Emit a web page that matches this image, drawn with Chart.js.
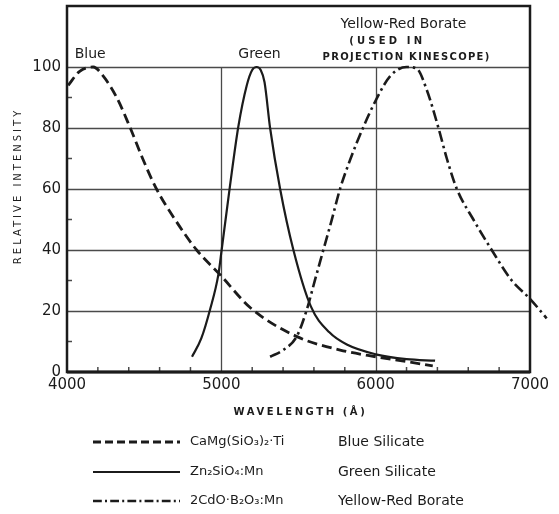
<!DOCTYPE html>
<html>
<head>
<meta charset="utf-8">
<script src="https://cdn.jsdelivr.net/npm/chart.js@4.4.1/dist/chart.umd.min.js"></script>
<style>
	html, body { margin: 0; padding: 0; background: #fff; }
	#wrap { width: 559px; height: 514px; }
</style>
</head>
<body>
<div id="wrap"><canvas id="chart" width="559" height="514"></canvas></div>
<script>
"use strict";

// wavelength (Angstrom) / relative intensity
const blueWl = [4008, 4080, 4170, 4235, 4322, 4410, 4490, 4580, 4700, 4840, 4990, 5190, 5490, 5770, 6000, 6200, 6370];
const blueVal = [94, 98.5, 100, 97, 90, 80, 70, 60, 50, 40, 32, 21, 11.6, 7.2, 5, 3.4, 2];

const greenWl = [4810, 4870, 4927, 4981, 5002, 5056, 5110, 5165, 5200, 5229, 5255, 5280, 5316, 5381, 5467, 5580, 5700, 5813, 6000, 6200, 6385];
const greenVal = [5, 11, 20.5, 32, 40, 61, 80.4, 94, 99, 100, 99, 95, 80, 60, 40, 21.5, 13, 9, 5.8, 4.2, 3.7];

const redWl = [5316, 5401, 5488, 5553, 5607, 5661, 5715, 5769, 5834, 5921, 6000, 6094, 6200, 6266, 6331, 6407, 6461, 6526, 6633, 6752, 6882, 7000, 7108];
const redVal = [5, 7.2, 11.6, 20.3, 30.2, 40, 49.8, 60, 69.5, 80.4, 89, 97, 100, 99.5, 92.5, 80, 70, 60, 50, 40, 30, 24, 17.6];

const xTicks = [4000, 5000, 6000, 7000];
const yTicks = [0, 20, 40, 60, 80, 100];

const seriesFormula = ["CaMg(SiO\u2083)\u2082\u00b7Ti", "Zn\u2082SiO\u2084:Mn", "2CdO\u00b7B\u2082O\u2083:Mn"];
const seriesName = ["Blue Silicate", "Green Silicate", "Yellow-Red Borate"];

const INK = "#1b1b1b";
const GRID = "#4a4a4a";
const FONT = "'DejaVu Sans', sans-serif";
const dashes = [[10, 5], [], [11, 4, 2.5, 4]];
const widths = [2.8, 2.2, 2.6];

function pts(aX, aY) {
	return aX.map((x, i) => ({ x: x, y: aY[i] }));
}

const decor = {
	id: "decor",
	beforeDatasetsDraw(chart) {
		const ctx = chart.ctx;
		const xs = chart.scales.x;
		const ys = chart.scales.y;
		const a = chart.chartArea;
		ctx.save();
		ctx.strokeStyle = GRID;
		ctx.lineWidth = 1.3;
		// horizontal grid
		[20, 40, 60, 80, 100].forEach(v => {
			const y = Math.round(ys.getPixelForValue(v)) + 0.5;
			ctx.beginPath(); ctx.moveTo(a.left, y); ctx.lineTo(a.right, y); ctx.stroke();
		});
		// vertical grid, only up to 100
		[5000, 6000].forEach(w => {
			const x = Math.round(xs.getPixelForValue(w)) + 0.5;
			ctx.beginPath(); ctx.moveTo(x, ys.getPixelForValue(0)); ctx.lineTo(x, ys.getPixelForValue(100)); ctx.stroke();
		});
		// minor ticks
		ctx.lineWidth = 1.5;
		for (let v = 10; v < 100; v += 20) {
			const y = ys.getPixelForValue(v);
			ctx.beginPath(); ctx.moveTo(a.left, y); ctx.lineTo(a.left + 5, y); ctx.stroke();
		}
		for (let w = 4200; w < 7000; w += 200) {
			if (w % 1000 === 0) continue;
			const x = xs.getPixelForValue(w);
			ctx.beginPath(); ctx.moveTo(x, a.bottom); ctx.lineTo(x, a.bottom - 5); ctx.stroke();
		}
		// frame
		ctx.strokeStyle = INK;
		ctx.lineWidth = 2.5;
		ctx.strokeRect(a.left, a.top, a.right - a.left, a.bottom - a.top);
		ctx.lineWidth = 3;
		ctx.beginPath(); ctx.moveTo(a.left, a.bottom); ctx.lineTo(a.right, a.bottom); ctx.stroke();
		ctx.restore();
	},
	afterDraw(chart) {
		const ctx = chart.ctx;
		const xs = chart.scales.x;
		const ys = chart.scales.y;
		const a = chart.chartArea;
		ctx.save();
		ctx.fillStyle = INK;
		ctx.textBaseline = "middle";

		// curve labels
		ctx.font = "14px " + FONT;
		ctx.textAlign = "left";
		ctx.fillText("Blue", xs.getPixelForValue(4050), ys.getPixelForValue(104.2));
		ctx.fillText("Green", xs.getPixelForValue(5110), ys.getPixelForValue(104.2));
		ctx.textAlign = "center";
		ctx.fillText("Yellow-Red Borate", xs.getPixelForValue(6180), ys.getPixelForValue(113.9));
		ctx.font = "bold 10px " + FONT;
		ctx.letterSpacing = "3.2px";
		ctx.fillText("(USED IN", xs.getPixelForValue(6075), ys.getPixelForValue(108.4));
		ctx.letterSpacing = "1.3px";
		ctx.fillText("PROJECTION KINESCOPE)", xs.getPixelForValue(6200), ys.getPixelForValue(103.2));

		// axis titles
		ctx.font = "bold 10px " + FONT;
		ctx.letterSpacing = "2.6px";
		ctx.fillText("WAVELENGTH (\u00c5)", (a.left + a.right) / 2 + 2, 412);
		ctx.save();
		ctx.translate(18, ys.getPixelForValue(61));
		ctx.rotate(-Math.PI / 2);
		ctx.font = "10px " + FONT;
		ctx.letterSpacing = "3px";
		ctx.fillText("RELATIVE INTENSITY", 0, 0);
		ctx.restore();
		ctx.letterSpacing = "0px";

		// legend
		const rows = [442, 472, 501];
		rows.forEach((y, i) => {
			ctx.strokeStyle = INK;
			ctx.lineWidth = widths[i];
			ctx.setLineDash(dashes[i].map(d => d * 0.8));
			ctx.beginPath(); ctx.moveTo(93, y); ctx.lineTo(180, y); ctx.stroke();
			ctx.setLineDash([]);
			ctx.textAlign = "left";
			ctx.font = "13px " + FONT;
			ctx.fillText(seriesFormula[i], 190, y);
			ctx.font = "14px " + FONT;
			ctx.fillText(seriesName[i], 338, y);
		});
		ctx.restore();
	}
};

function makeSet(aX, aY, i) {
	return {
		data: pts(aX, aY),
		borderColor: INK,
		borderWidth: widths[i],
		borderDash: dashes[i],
		pointRadius: 0,
		cubicInterpolationMode: "monotone",
		fill: false,
		clip: false
	};
}

new Chart(document.getElementById("chart"), {
	type: "line",
	data: {
		datasets: [
			makeSet(blueWl, blueVal, 0),
			makeSet(greenWl, greenVal, 1),
			makeSet(redWl, redVal, 2)
		]
	},
	options: {
		responsive: false,
		animation: false,
		layout: { padding: { top: 6, right: 29, left: 0, bottom: 0 } },
		plugins: {
			legend: { display: false },
			tooltip: { enabled: false }
		},
		scales: {
			x: {
				type: "linear",
				// limits set here so the borate curve may run past 7000
				afterDataLimits: s => { s.min = 4000; s.max = 7000; },
				afterFit: s => { s.height = 142; },
				afterBuildTicks: s => { s.ticks = xTicks.map(v => ({ value: v })); },
				grid: { display: false, drawTicks: false },
				border: { display: false },
				ticks: { color: INK, font: { family: FONT, size: 15 }, padding: 4, callback: v => String(v) }
			},
			y: {
				min: 0,
				max: 120,
				afterFit: s => { s.width = 67; s.paddingTop = 0; s.paddingBottom = 0; },
				afterBuildTicks: s => { s.ticks = yTicks.map(v => ({ value: v })); },
				grid: { display: false, drawTicks: false },
				border: { display: false },
				ticks: { color: INK, font: { family: FONT, size: 15 }, padding: 6 }
			}
		}
	},
	plugins: [decor]
});
</script>
</body>
</html>
